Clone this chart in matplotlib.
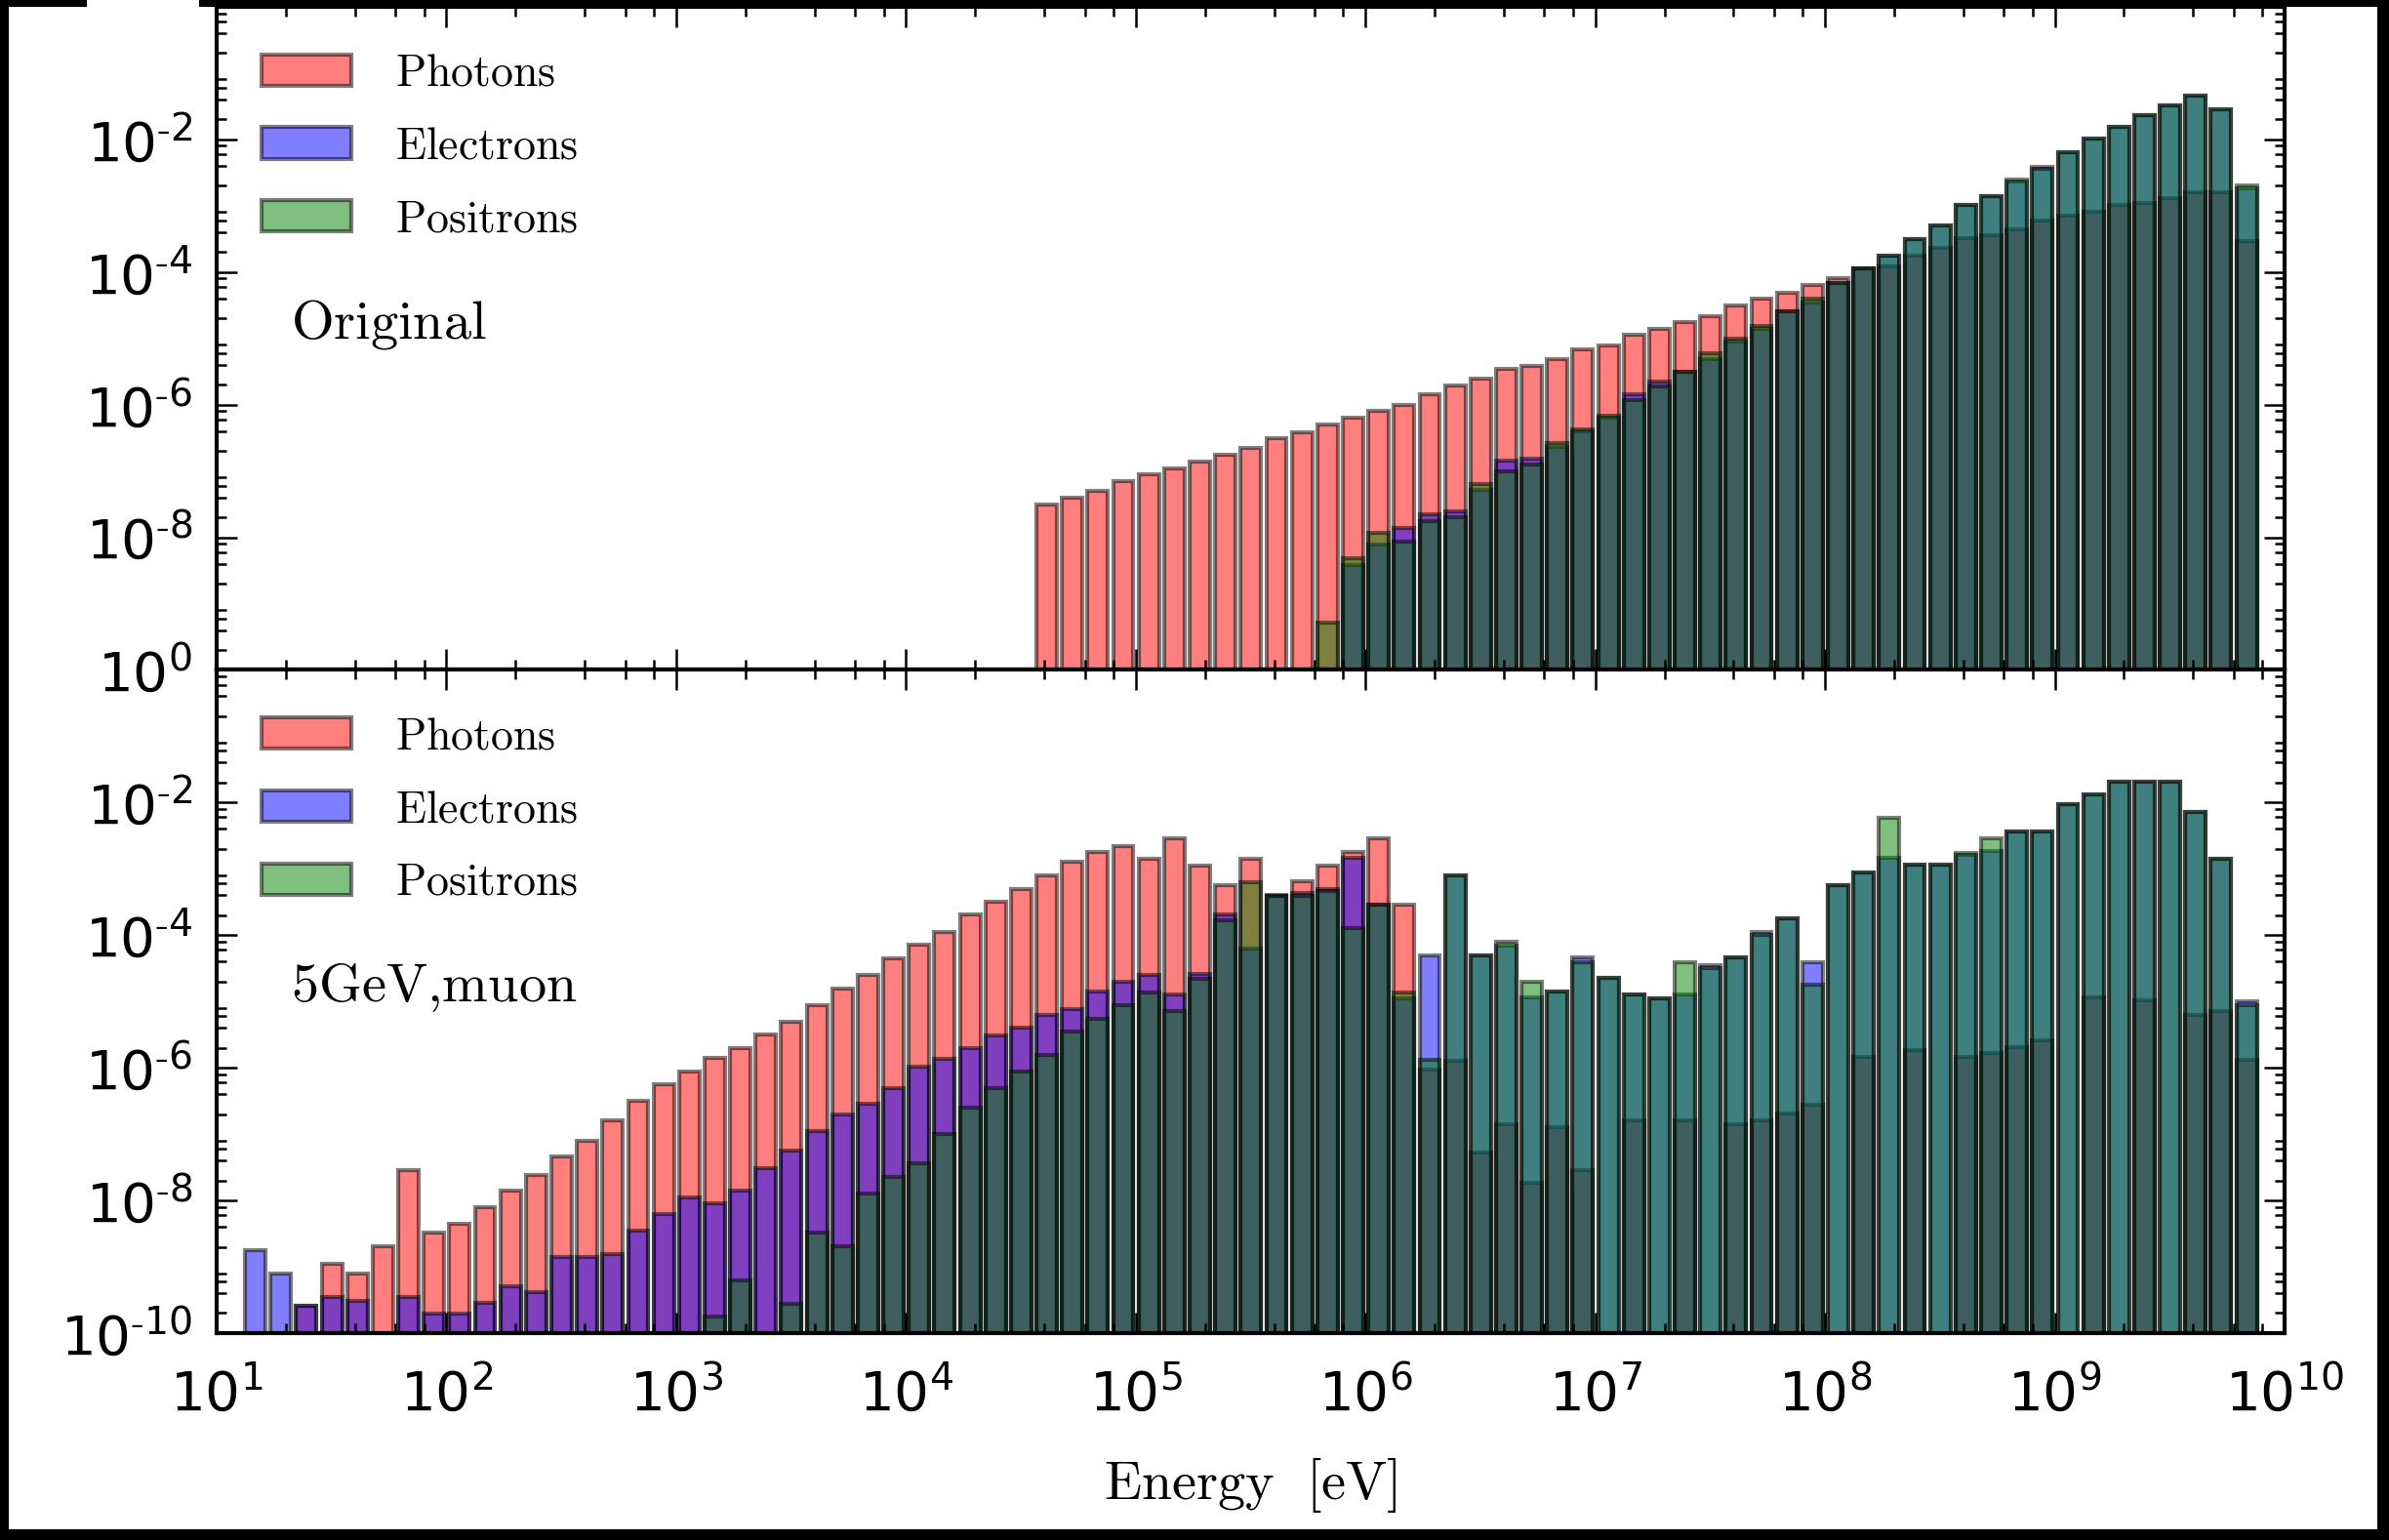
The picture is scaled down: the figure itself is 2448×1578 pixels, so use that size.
import numpy as np
import matplotlib
matplotlib.use("Agg")
import matplotlib.pyplot as plt
from matplotlib.patches import Rectangle
from matplotlib.ticker import LogLocator, FuncFormatter, NullFormatter

plt.rcParams["font.family"] = "DejaVu Sans"
plt.rcParams["mathtext.fontset"] = "cm"
plt.rcParams["axes.linewidth"] = 1.0
for ax_name in ("xtick", "ytick"):
    plt.rcParams[f"{ax_name}.direction"] = "in"
    plt.rcParams[f"{ax_name}.major.size"] = 5
    plt.rcParams[f"{ax_name}.minor.size"] = 2.5
    plt.rcParams[f"{ax_name}.major.width"] = 0.6
    plt.rcParams[f"{ax_name}.minor.width"] = 0.6
    plt.rcParams[f"{ax_name}.labelsize"] = 13.5
plt.rcParams["xtick.major.pad"] = 8.5
plt.rcParams["ytick.major.pad"] = 6
plt.rcParams["xtick.top"] = True
plt.rcParams["ytick.right"] = True

nan = np.nan

# 9 log bins per decade, 10 eV .. 10 GeV (81 bins)
edges = np.logspace(1, 10, 82)

# log10 of normalised counts per bin, nan = empty bin
# --- original spectrum ---
orig_photons = [nan] * 32 + [
    -7.51, -7.41, -7.30, -7.15, -7.05, -6.96, -6.86, -6.76, -6.66, -6.51,
    -6.42, -6.30, -6.20, -6.10, -6.00, -5.85, -5.71, -5.61, -5.46, -5.41,
    -5.31, -5.16, -5.11, -4.95, -4.86, -4.76, -4.66, -4.51, -4.40, -4.31,
    -4.19, -4.09, -3.95, -3.91, -3.76, -3.64, -3.49, -3.45, -3.35, -3.23,
    -3.15, -3.09, -2.99, -2.96, -2.89, -2.80, -2.80, -3.53, nan]
orig_electrons = [nan] * 44 + [
    -8.42, -8.11, -7.86, -7.66, -7.61, -7.28, -6.84, -6.81, -6.64, -6.41,
    -6.20, -5.85, -5.65, -5.51, -5.31, -5.05, -4.86, -4.59, -4.46, -4.16,
    -3.95, -3.75, -3.50, -3.30, -2.99, -2.86, -2.64, -2.41, -2.20, -1.99,
    -1.81, -1.64, -1.49, -1.34, -1.54, -2.74, nan]
orig_positrons = [nan] * 43 + [
    -9.28, -8.32, -7.93, -8.06, -7.76, -7.70, -7.20, -7.00, -6.91, -6.58,
    -6.37, -6.17, -5.93, -5.72, -5.51, -5.22, -5.00, -4.82, -4.59, -4.40,
    -4.16, -3.95, -3.75, -3.50, -3.30, -2.99, -2.86, -2.60, -2.45, -2.20,
    -1.99, -1.81, -1.64, -1.49, -1.34, -1.54, -2.69, nan]

# --- 5 GeV muon ---
muon_photons = [
    nan, nan, nan, -9.59, -8.95, -9.10, -8.69, -7.54, -8.49, -8.36,
    -8.10, -7.85, -7.61, -7.34, -7.10, -6.80, -6.50, -6.25, -6.05, -5.85,
    -5.70, -5.50, -5.31, -5.05, -4.81, -4.60, -4.35, -4.15, -3.95, -3.69,
    -3.50, -3.30, -3.10, -2.90, -2.75, -2.66, -2.85, -2.54, -2.95, -3.25,
    -2.85, -3.41, -3.18, -2.95, -2.75, -2.54, -3.54, -6.03, -5.90, -7.28,
    -6.85, -7.74, -6.89, -7.54, nan, -6.79, nan, -6.79, nan, -6.85,
    -6.80, -6.69, -6.56, nan, -5.84, nan, -5.74, nan, -5.84, -5.78,
    -5.69, -5.59, nan, -4.94, nan, -4.98, nan, -5.20, -5.15, -5.88,
    nan]
muon_electrons = [
    nan, -8.75, -9.10, -9.59, -9.45, -9.51, nan, -9.45, -9.70, -9.70,
    -9.54, -9.29, -9.39, -8.85, -8.85, -8.81, -8.45, -8.20, -7.95, -8.05,
    -7.85, -7.51, -7.25, -6.95, -6.70, -6.54, -6.30, -5.99, -5.86, -5.70,
    -5.51, -5.40, -5.20, -5.11, -4.85, -4.70, -4.60, -4.90, -4.59, -3.69,
    -4.20, -3.40, -3.36, -3.31, -2.83, -3.54, -4.95, -4.30, -3.10, -4.30,
    -4.16, -4.94, -4.85, -4.34, -4.64, -4.90, -4.95, -4.90, -4.45, -4.34,
    -3.95, -3.74, -4.41, -3.25, -3.05, -2.83, -2.94, -2.94, -2.79, -2.73,
    -2.44, -2.44, -2.03, -1.88, -1.69, -1.69, -1.69, -2.14, -2.85, -5.00,
    nan]
muon_positrons = [nan] * 19 + [
    -9.75, -9.20, nan, -9.56, -8.49, -8.69, -7.89, -7.64, -7.44, -7.00,
    -6.60, -6.30, -6.05, -5.80, -5.46, -5.26, -5.05, -4.87, -5.15, -4.66,
    -3.77, -3.20, -3.41, -3.41, -3.34, -3.89, -3.54, -4.87, -5.88, -3.10,
    -4.30, -4.10, -4.70, -4.85, -4.41, -4.64, -4.90, -4.95, -4.41, -4.49,
    -4.34, -4.00, -3.74, -4.74, -3.25, -3.05, -2.23, -2.94, -2.94, -2.76,
    -2.54, -2.44, -2.44, -2.03, -1.88, -1.69, -1.69, -1.69, -2.14, -2.85,
    -5.06, nan]

labels = [r"$\mathrm{Photons}$", r"$\mathrm{Electrons}$", r"$\mathrm{Positrons}$"]
colors = ["r", "b", "g"]
ytick_exps = [-10, -8, -6, -4, -2, 0]


def pow_label(exp):
    # plain hyphen in the exponent, like the old mathtext output
    if exp < 0:
        return r"$\mathdefault{10^{\text{-}%d}}$" % (-exp)
    return r"$\mathdefault{10^{%d}}$" % exp


def draw_panel(ax, series, tag, tick_labels):
    widths = np.diff(edges)
    left = edges[:-1] + 0.1 * widths
    handles = []
    for exps, color, label in zip(series, colors, labels):
        vals = 10.0 ** np.array(exps, dtype=float)
        ok = np.isfinite(vals)
        bars = ax.bar(left[ok], vals[ok], width=0.8 * widths[ok], align="edge",
                      color=color, alpha=0.5, edgecolor="k", linewidth=1.0,
                      label=label)
        handles.append(bars)
    ax.set_xscale("log")
    ax.set_yscale("log", nonpositive="clip")
    ax.set_xlim(1e1, 1e10)
    ax.set_ylim(1e-10, 1)
    ax.xaxis.set_major_locator(LogLocator(base=10, numticks=100))
    ax.xaxis.set_minor_locator(LogLocator(base=10, subs=(2, 4, 6, 8), numticks=100))
    ax.xaxis.set_major_formatter(FuncFormatter(lambda v, pos: pow_label(int(round(np.log10(v))))))
    ax.xaxis.set_minor_formatter(NullFormatter())
    ax.set_yticks([10.0 ** e for e in ytick_exps])
    ax.set_yticklabels(tick_labels)
    ax.yaxis.set_minor_locator(LogLocator(base=10, subs=(2, 4, 6, 8), numticks=100))
    ax.yaxis.set_minor_formatter(NullFormatter())
    ax.legend(handles=handles, loc="upper left", frameon=False, fontsize=11,
              labelspacing=0.65, handletextpad=1.0, borderaxespad=0.6)
    ax.text(0.036, 0.5, tag, transform=ax.transAxes, fontsize=13.5,
            ha="left", va="baseline")


fig = plt.figure(figsize=(8.16, 5.26), dpi=300, facecolor="black")
fig.patches.append(Rectangle((0.0037, 0.0070), 0.9914, 0.9886, transform=fig.transFigure,
                             facecolor="white", edgecolor="none", zorder=-10))
fig.patches.append(Rectangle((0.0364, 0.99), 0.047, 0.01, transform=fig.transFigure,
                             facecolor="white", edgecolor="none", zorder=-10))

left_edge, width = 0.0907, 0.8656
panel_h = 0.4306
ax_top = fig.add_axes([left_edge, 0.1344 + panel_h, width, panel_h])
ax_bot = fig.add_axes([left_edge, 0.1344, width, panel_h])

top_labels = [pow_label(e) if -10 < e < 0 else "" for e in ytick_exps]
bot_labels = [pow_label(e) for e in ytick_exps]

draw_panel(ax_top, [orig_photons, orig_electrons, orig_positrons],
           r"$\mathrm{Original}$", top_labels)
draw_panel(ax_bot, [muon_photons, muon_electrons, muon_positrons],
           r"$\mathrm{5GeV{,}muon}$", bot_labels)

ax_top.tick_params(axis="x", labelbottom=False)
ax_bot.set_xlabel(r"$\mathrm{Energy\ \ [eV]}$", fontsize=13.5, labelpad=8.5)

fig.savefig("out.png", dpi=300, facecolor=fig.get_facecolor())
